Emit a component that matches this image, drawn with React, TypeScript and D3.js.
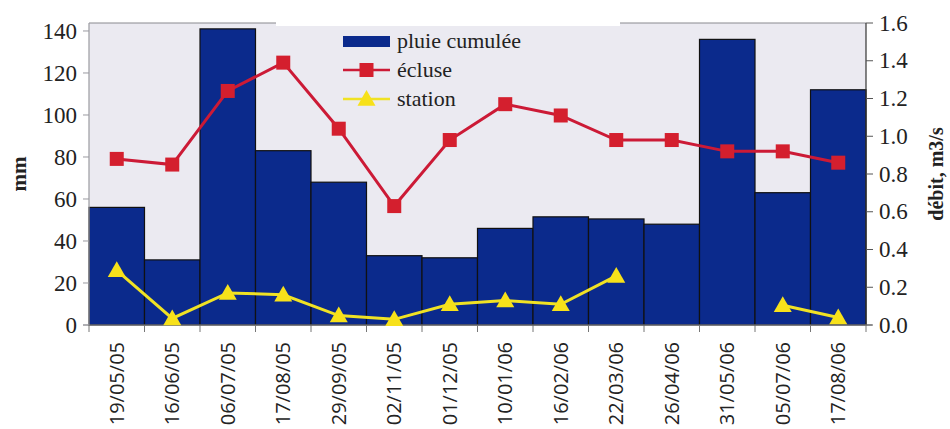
import React from "react";
import * as d3 from "d3";

const categories = [
  "19/05/05", "16/06/05", "06/07/05", "17/08/05", "29/09/05", "02/11/05", "01/12/05",
  "10/01/06", "16/02/06", "22/03/06", "26/04/06", "31/05/06", "05/07/06", "17/08/06",
];
const pluie = [56, 31, 141, 83, 68, 33, 32, 46, 51.5, 50.5, 48, 136, 63, 112];
const ecluse = [0.88, 0.85, 1.24, 1.39, 1.04, 0.63, 0.98, 1.17, 1.11, 0.98, 0.98, 0.92, 0.92, 0.86];
const station: (number | null)[] = [0.29, 0.035, 0.17, 0.16, 0.05, 0.03, 0.11, 0.13, 0.11, 0.26, null, null, 0.105, 0.04];
const leftTicks = [0, 20, 40, 60, 80, 100, 120, 140];
const rightTicks = [0, 0.2, 0.4, 0.6, 0.8, 1.0, 1.2, 1.4, 1.6];
const legendLabels = ["pluie cumulée", "écluse", "station"];

const W = 950, H = 429;
const M = { left: 89, right: 84, top: 23, bottom: 104 };
const BG = "#ebeaf1";
const BLUE = "#0b2a8c";
const RED = "#cc1a36";
const RED_M = "#d41f2e";
const YEL = "#f0e224";
const YEL_M = "#f7e11a";

export default function App() {
  const x = d3.scaleBand<string>().domain(categories).range([M.left, W - M.right]).padding(0);
  const yL = d3.scaleLinear().domain([0, 143.8]).range([H - M.bottom, M.top]);
  const yR = d3.scaleLinear().domain([0, 1.6]).range([H - M.bottom, M.top]);
  const cx = (i: number) => (x(categories[i]) as number) + x.bandwidth() / 2;
  const bottom = H - M.bottom;

  const redLine = d3.line<number>().x((_, i) => cx(i)).y((d) => yR(d))(ecluse) as string;
  const yelLine = d3
    .line<number | null>()
    .defined((d) => d !== null)
    .x((_, i) => cx(i))
    .y((d) => yR(d as number))(station) as string;

  const tri = (px: number, py: number, s = 9) =>
    `M${px},${py - s} L${px + s},${py + s * 0.75} L${px - s},${py + s * 0.75} Z`;

  const serif = "'Liberation Serif', 'DejaVu Serif', serif";
  const sans = "'Open Sans', 'Noto Sans', sans-serif";

  const legX = 343, legY = 41, legDy = 29;

  return (
    <svg width={W} height={H} style={{ position: "absolute", left: 0, top: 0, background: "#fff" }}>
      <rect x={M.left} y={M.top} width={W - M.left - M.right} height={bottom - M.top} fill={BG} />
      {/* top border */}
      <line x1={M.left} x2={W - M.right} y1={M.top} y2={M.top} stroke="#8a8a90" strokeWidth={1.2} />
      {/* bars */}
      {pluie.map((v, i) => (
        <rect
          key={i}
          x={x(categories[i])}
          y={yL(v)}
          width={x.bandwidth()}
          height={bottom - yL(v)}
          fill={BLUE}
          stroke="#111"
          strokeWidth={1.2}
        />
      ))}
      {/* axes */}
      <line x1={M.left} x2={M.left} y1={M.top} y2={bottom} stroke="#9a9aa0" strokeWidth={1.2} />
      <line x1={W - M.right} x2={W - M.right} y1={M.top} y2={bottom} stroke="#333" strokeWidth={1.2} />
      <line x1={M.left - 6} x2={W - M.right + 6} y1={bottom} y2={bottom} stroke="#8a8a90" strokeWidth={1.2} />
      {leftTicks.map((t) => (
        <g key={t}>
          <line x1={M.left - 6} x2={M.left} y1={yL(t)} y2={yL(t)} stroke="#9a9aa0" />
          <text x={M.left - 12} y={yL(t)} dy="0.33em" textAnchor="end" fontFamily={serif} fontSize={23} fill="#222">
            {t}
          </text>
        </g>
      ))}
      {rightTicks.map((t) => (
        <g key={t}>
          <line x1={W - M.right} x2={W - M.right + 7} y1={yR(t)} y2={yR(t)} stroke="#555" />
          <text x={W - M.right + 13} y={yR(t)} dy="0.33em" textAnchor="start" fontFamily={serif} fontSize={23} fill="#222">
            {t.toFixed(1)}
          </text>
        </g>
      ))}
      {categories.map((c, i) => (
        <g key={c}>
          <line
            x1={x(c) as number}
            x2={x(c) as number}
            y1={bottom}
            y2={bottom + 7}
            stroke="#777"
          />
          <text
            transform={`translate(${cx(i) + 7},${bottom + 17}) rotate(-90)`}
            textAnchor="end"
            fontFamily={sans}
            fontSize={20}
            fill="#222"
          >
            {c}
          </text>
        </g>
      ))}
      <line x1={W - M.right} x2={W - M.right} y1={bottom} y2={bottom + 7} stroke="#777" />
      {/* lines */}
      <path d={redLine} fill="none" stroke={RED} strokeWidth={3} />
      {ecluse.map((v, i) => (
        <rect key={i} x={cx(i) - 7} y={yR(v) - 7} width={14} height={14} fill={RED_M} />
      ))}
      <path d={yelLine} fill="none" stroke={YEL} strokeWidth={3} />
      {station.map((v, i) =>
        v === null ? null : <path key={i} d={tri(cx(i), yR(v))} fill={YEL_M} />
      )}
      {/* legend */}
      <rect x={276} y={M.top - 1} width={344} height={4} fill="#fff" />
      <rect x={legX} y={legY - 5} width={47} height={11} fill={BLUE} />
      <text x={legX + 54} y={legY} dy="0.33em" fontFamily={serif} fontSize={22} fill="#222">{legendLabels[0]}</text>
      <line x1={legX} x2={legX + 47} y1={legY + legDy} y2={legY + legDy} stroke={RED} strokeWidth={2.5} />
      <rect x={legX + 23.5 - 7} y={legY + legDy - 7} width={14} height={14} fill={RED_M} />
      <text x={legX + 54} y={legY + legDy} dy="0.33em" fontFamily={serif} fontSize={22} fill="#222">{legendLabels[1]}</text>
      <line x1={legX} x2={legX + 47} y1={legY + 2 * legDy} y2={legY + 2 * legDy} stroke={YEL} strokeWidth={2.5} />
      <path d={tri(legX + 23.5, legY + 2 * legDy)} fill={YEL_M} />
      <text x={legX + 54} y={legY + 2 * legDy} dy="0.33em" fontFamily={serif} fontSize={22} fill="#222">{legendLabels[2]}</text>
      {/* axis titles */}
      <text
        transform={`translate(26,${(M.top + bottom) / 2}) rotate(-90)`}
        textAnchor="middle"
        fontFamily={serif}
        fontWeight="bold"
        fontSize={21}
        fill="#222"
      >
        mm
      </text>
      <text
        transform={`translate(943,${(M.top + bottom) / 2}) rotate(-90)`}
        textAnchor="middle"
        fontFamily={serif}
        fontWeight="bold"
        fontSize={20}
        fill="#222"
      >
        débit, m3/s
      </text>
    </svg>
  );
}
